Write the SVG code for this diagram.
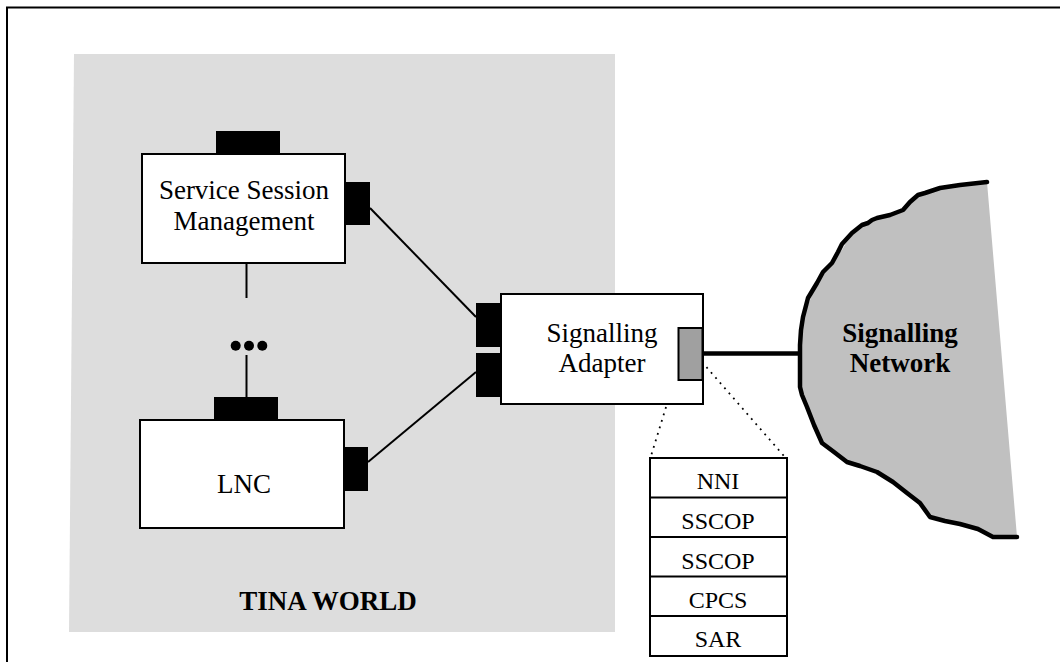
<svg xmlns="http://www.w3.org/2000/svg" width="1060" height="662" viewBox="0 0 1060 662">
<style>
.box{fill:#fff;stroke:#000;stroke-width:2}
.port{fill:#000}
.t{font-family:"Liberation Serif","Times New Roman",serif;font-size:27px;fill:#000;text-anchor:middle}
.b{font-weight:bold}
.s{font-size:24px}
.ln{stroke:#000;stroke-width:2;fill:none}
</style>
<rect width="1060" height="662" fill="#fff"/>
<path d="M7,662 V7.5 H1060" fill="none" stroke="#000" stroke-width="2"/>
<g id="tina-world">
<polygon points="74,54 615,54 615,632 69,632" fill="#dddddd"/>
<text class="t b" x="328" y="610">TINA WORLD</text>
</g>
<g id="connectors">
<line class="ln" x1="370" y1="208" x2="476" y2="317"/>
<line class="ln" x1="368" y1="462" x2="476" y2="372"/>
<line class="ln" x1="246.5" y1="263" x2="246.5" y2="298"/>
<line class="ln" x1="246.5" y1="355" x2="246.5" y2="397"/>
<line x1="702" y1="353.5" x2="801" y2="353.5" stroke="#000" stroke-width="4.5"/>
<line x1="678" y1="368" x2="651" y2="456" stroke="#000" stroke-width="1.8" stroke-dasharray="1.8,5"/>
<line x1="702" y1="362" x2="784" y2="456" stroke="#000" stroke-width="1.8" stroke-dasharray="1.8,5"/>
</g>
<g id="ssm">
<rect class="port" x="216" y="131" width="64" height="23"/>
<rect class="port" x="345" y="182" width="25" height="43"/>
<rect class="box" x="142" y="154" width="203" height="109"/>
<text class="t" x="244" y="199">Service Session</text>
<text class="t" x="244" y="230">Management</text>
</g>
<g id="dots">
<circle cx="235.7" cy="345.7" r="5"/>
<circle cx="249" cy="345.7" r="5"/>
<circle cx="262.3" cy="345.7" r="5"/>
</g>
<g id="lnc">
<rect class="port" x="214" y="397" width="64" height="23"/>
<rect class="port" x="343" y="447" width="25" height="44"/>
<rect class="box" x="140" y="420" width="204" height="108"/>
<text class="t" x="244" y="493">LNC</text>
</g>
<g id="signalling-adapter">
<rect class="port" x="476" y="303" width="26" height="44"/>
<rect class="port" x="476" y="353" width="26" height="44"/>
<rect class="box" x="501" y="294" width="202" height="110"/>
<rect x="678.5" y="328" width="24" height="52" fill="#a0a0a0" stroke="#000" stroke-width="2"/>
<text class="t" x="602" y="342">Signalling</text>
<text class="t" x="602" y="372">Adapter</text>
</g>
<g id="stack">
<rect class="box" x="650" y="458" width="137" height="198"/>
<line class="ln" x1="650" y1="497.5" x2="787" y2="497.5"/>
<line class="ln" x1="650" y1="537" x2="787" y2="537"/>
<line class="ln" x1="650" y1="576.5" x2="787" y2="576.5"/>
<line class="ln" x1="650" y1="616" x2="787" y2="616"/>
<text class="t s" x="718" y="489">NNI</text>
<text class="t s" x="718" y="529">SSCOP</text>
<text class="t s" x="718" y="568.5">SSCOP</text>
<text class="t s" x="718" y="608">CPCS</text>
<text class="t s" x="718" y="647">SAR</text>
</g>
<g id="signalling-network">
<path d="M987,182 L1017,537 L993,537 L960,525 L930,517 L907,493 L877,472 L847,462 L822,443 L807,407 L800,387 L800,330 L803,317 L817,283 L832,263 L842,250 L846,243 L862,225 L870,222 L877,218 L903,210 L918,195 L940,188 Z" fill="#c0c0c0" stroke="none"/>
<path d="M987,182 L960,185 L940,188 L925,193 L918,195 L910,202 L903,210 L890,215 L877,218 L872,220 L868,223 L862,225 L852,233 L842,244 L838,252 L832,263 L823,272 L817,283 L808,298 L803,317 L801,330 L800,345 L800,387 L802,395 L807,407 L814,425 L822,443 L834,452 L847,462 L860,466 L877,472 L893,482 L907,493 L920,503 L930,517 L945,521 L960,524 L978,529 L993,537 L1017,537" fill="none" stroke="#000" stroke-width="4.5" stroke-linejoin="round" stroke-linecap="round"/>
<text class="t b" x="900" y="342">Signalling</text>
<text class="t b" x="900" y="372">Network</text>
</g>
</svg>
